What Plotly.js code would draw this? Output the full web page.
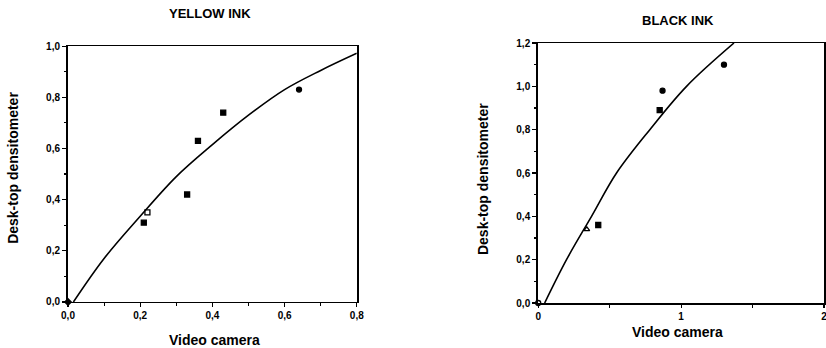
<!DOCTYPE html>
<html>
<head>
<meta charset="utf-8">
<script src="https://cdn.plot.ly/plotly-3.0.1.min.js"></script>
<style>html,body{margin:0;padding:0;background:#fff;}#chart{width:826px;height:348px;}</style>
</head>
<body>
<div id="chart"></div>
<script>
// Yellow ink: measured points
const yellowX = [0.0, 0.21, 0.22, 0.33, 0.36, 0.43, 0.64];
const yellowY = [0.0, 0.31, 0.35, 0.42, 0.63, 0.74, 0.83];
const yellowSymbols = ['diamond', 'square', 'square-open', 'square', 'square', 'square', 'circle'];
// Yellow ink: fitted curve
const yellowCurveX = [0.015, 0.1, 0.2, 0.3, 0.4, 0.5, 0.6, 0.7, 0.8];
const yellowCurveY = [0.0, 0.17, 0.335, 0.49, 0.615, 0.73, 0.83, 0.905, 0.972];

// Black ink: measured points
const blackX = [0.0, 0.34, 0.42, 0.85, 0.87, 1.30];
const blackY = [0.0, 0.34, 0.36, 0.89, 0.98, 1.10];
const blackSymbols = ['circle-open', 'triangle-up-open', 'square', 'square', 'circle', 'circle'];
// Black ink: fitted curve
const blackCurveX = [0.045, 0.198, 0.373, 0.548, 0.781, 1.038, 1.37];
const blackCurveY = [0.0, 0.2, 0.4, 0.6, 0.8, 1.0, 1.2];

// Tick labels
const yellowXTicks = [0, 0.2, 0.4, 0.6, 0.8];
const yellowXTickText = ['0,0', '0,2', '0,4', '0,6', '0,8'];
const yellowYTicks = [0, 0.2, 0.4, 0.6, 0.8, 1.0];
const yellowYTickText = ['0,0', '0,2', '0,4', '0,6', '0,8', '1,0'];
const blackXTicks = [0, 1, 2];
const blackXTickText = ['0', '1', '2'];
const blackYTicks = [0, 0.2, 0.4, 0.6, 0.8, 1.0, 1.2];
const blackYTickText = ['0,0', '0,2', '0,4', '0,6', '0,8', '1,0', '1,2'];

const F = 'Liberation Sans, Arial, sans-serif';
const tickFont = {family: F, size: 10, color: '#000', weight: 'bold'};

const traces = [
  {x: yellowCurveX, y: yellowCurveY, mode: 'lines', line: {color: '#000', width: 1.6, shape: 'spline', smoothing: 1}, xaxis: 'x', yaxis: 'y', hoverinfo: 'skip'},
  {x: yellowX, y: yellowY, mode: 'markers', marker: {symbol: yellowSymbols, size: 5, color: '#000', line: {color: '#000', width: 1.3}}, xaxis: 'x', yaxis: 'y', cliponaxis: false},
  {x: blackCurveX, y: blackCurveY, mode: 'lines', line: {color: '#000', width: 1.6, shape: 'spline', smoothing: 1}, xaxis: 'x2', yaxis: 'y2', hoverinfo: 'skip'},
  {x: blackX, y: blackY, mode: 'markers', marker: {symbol: blackSymbols, size: 5, color: '#000', line: {color: '#000', width: 1.3}}, xaxis: 'x2', yaxis: 'y2', cliponaxis: false}
];

function ax(extra) {
  return Object.assign({
    showline: true, linecolor: '#000', linewidth: 1.5, mirror: true,
    showgrid: false, zeroline: false,
    ticks: 'outside', ticklen: 4, tickwidth: 1.2, tickcolor: '#000',
    tickfont: tickFont, tickmode: 'array', fixedrange: true,
    ticklabeloverflow: 'allow'
  }, extra);
}

function note(text, x, y, size, angle) {
  return {text: text, xref: 'paper', yref: 'paper', x: x, y: y, xanchor: 'center', yanchor: 'middle',
          textangle: angle || 0, showarrow: false, font: {family: F, size: size, color: '#000', weight: 'bold'}};
}

const layout = {
  width: 826, height: 348,
  margin: {l: 68, r: 2, t: 43, b: 45},
  paper_bgcolor: '#fff', plot_bgcolor: '#fff',
  showlegend: false,
  xaxis: ax({domain: [0, 0.382], range: [0, 0.8], anchor: 'y', tickvals: yellowXTicks, ticktext: yellowXTickText,
             minor: {tickvals: [0.1, 0.3, 0.5, 0.7], ticks: 'outside', ticklen: 3, tickcolor: '#000'}}),
  yaxis: ax({domain: [0.004, 0.988], range: [0, 1.0], anchor: 'x', tickvals: yellowYTicks, ticktext: yellowYTickText, linewidth: 2,
             minor: {tickvals: [0.1, 0.3, 0.5, 0.7, 0.9], ticks: 'outside', ticklen: 2, tickcolor: '#000'}}),
  xaxis2: ax({domain: [0.622, 1], range: [0, 2], anchor: 'y2', tickvals: blackXTicks, ticktext: blackXTickText,
              ticklen: 3, minor: {tickvals: [0.5, 1.5], ticks: 'outside', ticklen: 3, tickcolor: '#000'}}),
  yaxis2: ax({domain: [0, 1], range: [0, 1.2], anchor: 'x2', tickvals: blackYTicks, ticktext: blackYTickText, linewidth: 2,
              minor: {tickvals: [0.1, 0.3, 0.5, 0.7, 0.9, 1.1], ticks: 'outside', ticklen: 2, tickcolor: '#000'}}),
  annotations: [
    note('YELLOW INK', 0.188, 1.115, 13),
    note('BLACK INK', 0.807, 1.088, 13),
    note('Video camera', 0.194, -0.142, 14),
    note('Video camera', 0.806, -0.11, 14),
    note('Desk-top densitometer', -0.073, 0.519, 14, -90),
    note('Desk-top densitometer', 0.549, 0.477, 14, -90)
  ]
};

Plotly.newPlot('chart', traces, layout, {staticPlot: true, displayModeBar: false});
</script>
</body>
</html>
